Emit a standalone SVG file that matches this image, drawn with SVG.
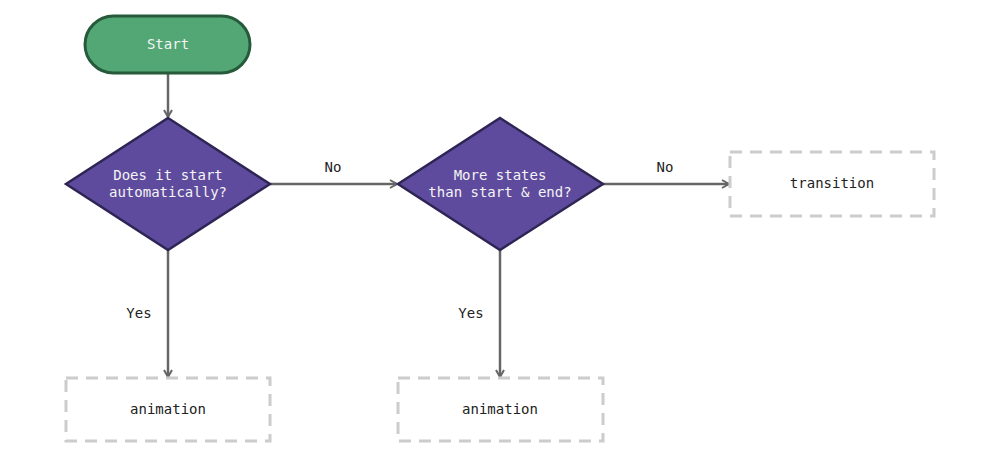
<svg xmlns="http://www.w3.org/2000/svg" width="1000" height="458" viewBox="0 0 1000 458">
<defs>
<style>
text{font-family:"DejaVu Sans Mono","Liberation Mono",monospace;font-size:14px;text-anchor:middle;dominant-baseline:central}
.light{fill:#f4f4f4}
.lbl{fill:#222}
.dec{fill:#5f4b9e;stroke:#2e2554;stroke-width:2.5}
.term{fill:#52a775;stroke:#275a3b;stroke-width:3}
.ghost{fill:none;stroke:#cccccc;stroke-width:3;stroke-dasharray:12 8}
.edge{fill:none;stroke:#666666;stroke-width:2.5;marker-end:url(#arr)}
</style>
<marker id="arr" viewBox="0 0 10 10" refX="8" refY="5" markerWidth="4" markerHeight="4" orient="auto" markerUnits="strokeWidth">
<path d="M1,1 L8,5 L1,9" fill="none" stroke="#666666" stroke-width="2"/>
</marker>
</defs>
<g id="connectors">
<path class="edge" d="M168,73 L168,117"/>
<path class="edge" d="M270,184 L397,184"/>
<path class="edge" d="M603,184 L729,184"/>
<path class="edge" d="M168,250 L168,377"/>
<path class="edge" d="M500,250 L500,377"/>
<text class="lbl" x="333" y="167">No</text>
<text class="lbl" x="665" y="167">No</text>
<text class="lbl" x="139" y="313">Yes</text>
<text class="lbl" x="471" y="313">Yes</text>
</g>
<g id="start">
<rect class="term" x="85" y="16" width="165" height="57" rx="28.5"/>
<text class="light" x="168" y="44">Start</text>
</g>
<g id="decision1">
<polygon class="dec" points="168,118 270,184 168,250 66,184"/>
<text class="light" x="168" y="175">Does it start</text>
<text class="light" x="168" y="192">automatically?</text>
</g>
<g id="decision2">
<polygon class="dec" points="500,118 603,184 500,250 398,184"/>
<text class="light" x="500" y="175">More states</text>
<text class="light" x="500" y="192">than start &amp; end?</text>
</g>
<g id="transition">
<rect class="ghost" x="730" y="152" width="204" height="64"/>
<text class="lbl" x="832" y="183">transition</text>
</g>
<g id="animation1">
<rect class="ghost" x="66" y="378" width="204" height="63"/>
<text class="lbl" x="168" y="409">animation</text>
</g>
<g id="animation2">
<rect class="ghost" x="398" y="378" width="205" height="63"/>
<text class="lbl" x="500" y="409">animation</text>
</g>
</svg>
